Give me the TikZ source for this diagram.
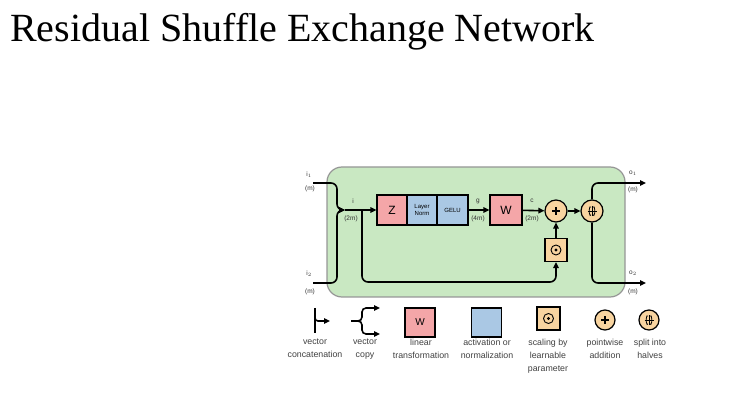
\documentclass[tikz,border=0pt]{standalone}
\usepackage{fontspec}
\setmainfont{Liberation Serif}
\setsansfont{Liberation Sans}
\usetikzlibrary{arrows.meta}
\definecolor{blkgreen}{RGB}{201,232,194}
\definecolor{blkedge}{RGB}{150,150,150}
\definecolor{linred}{RGB}{244,166,168}
\definecolor{actblue}{RGB}{170,200,228}
\definecolor{sclorange}{RGB}{248,212,160}
\tikzstyle{box} = [rectangle,draw,line width=1.2pt,text centered,inner sep=0pt,font=\sffamily]
\tikzstyle{lin} = [box,fill=linred,minimum width=30pt,minimum height=30pt,font=\sffamily\fontsize{12}{12}\selectfont]
\tikzstyle{act} = [box,fill=actblue,minimum width=30pt,minimum height=30pt,font=\sffamily\fontsize{6}{7}\selectfont,align=center]
\tikzstyle{scl} = [box,fill=sclorange,minimum width=22pt,minimum height=23pt,
  path picture={\draw[line width=0.9pt] (path picture bounding box.center) circle (5pt);
  \fill[black] (path picture bounding box.center) circle (1.6pt);}]
\tikzstyle{op} = [circle,draw,line width=1.2pt,fill=sclorange,minimum size=22pt,inner sep=0pt]
\tikzstyle{add} = [op,path picture={\draw[line width=1.3pt] (path picture bounding box.center) +(-4pt,0) -- +(4pt,0) +(0,-4pt) -- +(0,4pt);}]
\tikzstyle{split} = [op,path picture={\draw[line width=0.8pt] (path picture bounding box.center) +(-4.5pt,0) -- +(4.5pt,0) +(0,-5pt) -- +(0,5pt);
  \draw[line width=0.8pt] (path picture bounding box.center) +(-1pt,-4pt) arc (-60:-300:1.2pt and 4.6pt);
  \draw[line width=0.8pt] (path picture bounding box.center) +(1pt,-4pt) arc (240:480:1.2pt and 4.6pt);}]
\tikzstyle{wire} = [line width=1.6pt]
\tikzstyle{arr} = [wire,-{Triangle[length=6pt,width=5.5pt]}]
\tikzstyle{lbl} = [inner sep=0pt,font=\sffamily\fontsize{6.5}{7}\selectfont,text=black!80]
\tikzstyle{leg} = [anchor=north,inner sep=0pt,align=center,font=\sffamily\fontsize{8.8}{12.8}\selectfont,text=black!75]

\begin{document}
\begin{tikzpicture}[x=1pt,y=-1pt]
    \useasboundingbox (0,0) rectangle (756,406);

    \node[anchor=base west,inner sep=0pt,font=\fontsize{40}{40}\selectfont] (title) at (10,42) {Residual Shuffle Exchange Network};

    \node[draw=blkedge,fill=blkgreen,line width=1.2pt,rounded corners=15pt,minimum width=298pt,minimum height=130pt] (block) at (476,232) {};

    \node[lin] (z) at (392,210) {Z};
    \node[act,node distance=30pt,right of=z] (norm) {Layer\\Norm};
    \node[act,node distance=30.5pt,minimum width=31pt,right of=norm] (gelu) {GELU};
    \node[lin,minimum width=32pt] (w) at (506,210) {W};
    \node[add] (plus) at (556,211) {};
    \node[scl] (scale) at (556,250) {};
    \node[split] (halves) at (592,211) {};

    \coordinate (i1) at (313,183);
    \coordinate (i2) at (313,283);
    \coordinate (merge) at (345,210);
    \coordinate (res) at (362,210);
    \coordinate (o1) at (646,183);
    \coordinate (o2) at (646,283);

    \node[lbl] (i1name) at (309,175) {i$_1$};
    \node[lbl] (i1size) at (310,189) {(m)};
    \node[lbl] (i2name) at (309,274) {i$_2$};
    \node[lbl] (i2size) at (310,292) {(m)};
    \node[lbl] (iname) at (353,201) {i};
    \node[lbl] (isize) at (351,219) {(2m)};
    \node[lbl] (gname) at (478,201) {g};
    \node[lbl] (gsize) at (478,219) {(4m)};
    \node[lbl] (cname) at (532,201) {c};
    \node[lbl] (csize) at (532,219) {(2m)};
    \node[lbl] (o1name) at (633,173) {o$_1$};
    \node[lbl] (o1size) at (633,190) {(m)};
    \node[lbl] (o2name) at (633,273) {o$_2$};
    \node[lbl] (o2size) at (633,292) {(m)};

    \draw[arr,rounded corners=6pt] (i1) -- (337,183) -- (337,210) -- (merge);
    \draw[arr,rounded corners=6pt] (i2) -- (337,283) -- (337,210) -- (merge);
    \draw[arr] (merge) -- (z);
    \draw[arr] (gelu) -- (w);
    \draw[arr] (w) -- (plus);
    \draw[arr,rounded corners=6pt] (res) -- (362,282) -| (scale);
    \draw[arr] (scale) -- (plus);
    \draw[arr] (plus) -- (halves);
    \draw[arr,rounded corners=6pt] (halves) -- (592,183) -- (o1);
    \draw[arr,rounded corners=6pt] (halves) -- (592,283) -- (o2);

    \coordinate (cattop) at (315,308);
    \coordinate (catbot) at (315,333);
    \coordinate (catout) at (330,321);
    \draw[wire] (cattop) -- (catbot);
    \draw[arr,rounded corners=3pt] (315,317) -- (315,321) -- (catout);
    \coordinate (cpin) at (351,321);
    \coordinate (cptop) at (380,308);
    \coordinate (cpbot) at (380,334);
    \draw[arr,rounded corners=4pt] (cpin) -- (362,321) |- (cptop);
    \draw[arr,rounded corners=4pt] (cpin) -- (362,321) |- (cpbot);
    \node[lin,minimum height=29pt,font=\sffamily\fontsize{10}{10}\selectfont] (legw) at (420,322.5) {W};
    \node[act,minimum height=29pt] (legact) at (486.5,322.5) {};
    \node[scl,minimum width=23pt] (legscl) at (548.5,318.5) {};
    \node[add,minimum size=20pt] (legadd) at (605,320) {};
    \node[split,minimum size=20pt] (leghalf) at (649,320) {};

    \node[leg] (t1) at (315,339) {vector\\concatenation};
    \node[leg] (t2) at (365,339) {vector\\copy};
    \node[leg] (t3) at (421,339) {linear\\transformation};
    \node[leg] (t4) at (487,339) {activation or\\normalization};
    \node[leg] (t5) at (548,339) {scaling by\\learnable\\parameter};
    \node[leg] (t6) at (605,339) {pointwise\\addition};
    \node[leg] (t7) at (650,339) {split into\\halves};

\end{tikzpicture}
\end{document}
